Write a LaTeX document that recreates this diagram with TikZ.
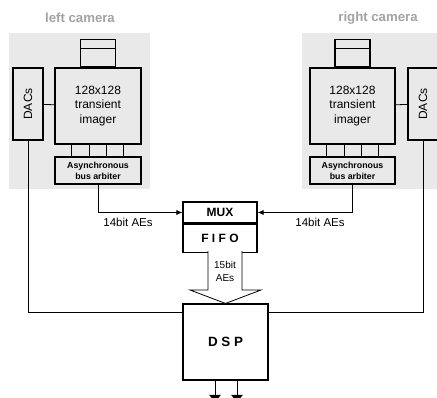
\documentclass[tikz,border=0pt]{standalone}
\usepackage{fontspec}
\setmainfont{Liberation Sans}
\usetikzlibrary{arrows.meta,calc}
\definecolor{bggray}{HTML}{E9E9E9}
\definecolor{labgray}{HTML}{A2A2A2}
\begin{document}
\begin{tikzpicture}[x=1pt,y=-1pt,
  box/.style={draw,line width=1.1pt,inner sep=0pt,align=center},
  conn/.style={line width=0.8pt},
  sig/.style={conn,-{Latex[length=6pt,width=5pt]}},
  camlabel/.style={font=\bfseries\fontsize{13.2}{15}\selectfont,text=labgray},
  big/.style={font=\fontsize{12}{14.5}\selectfont},
  small/.style={font=\bfseries\fontsize{8.8}{10.8}\selectfont},
  lab/.style={font=\fontsize{11.5}{13}\selectfont}]
\useasboundingbox (0,0) rectangle (437,398);
\clip (0,0) rectangle (437,398);
% backgrounds
\fill[bggray] (9,33) rectangle (150,189);
\fill[bggray] (302,33) rectangle (437,189);
\node[camlabel] (labL) at (80,18) {left camera};
\node[camlabel] (labR) at (378,18) {right camera};
% left camera
\node[box,minimum width=30,minimum height=72] (dacL) at (28,104) {\rotatebox{90}{\fontsize{12}{14}\selectfont DACs}};
\node[box,big,minimum width=86,minimum height=76] (imgL) at (98,106) {128x128\\transient\\imager};
\node[box,minimum width=35,minimum height=27,anchor=south] (lensL) at (imgL.north) {};
\draw[line width=1.1pt] ([yshift=-9.5pt]lensL.north west) -- ([yshift=-9.5pt]lensL.north east);
\node[box,small,minimum width=86,minimum height=27] (arbL) at (98,170.5) {Asynchronous\\bus arbiter};
\foreach \dx in {17,34.5,52,69}
  \draw[conn] ($(imgL.south west)+(\dx,0)$) -- ($(arbL.north west)+(\dx,0)$);
\draw[conn] (dacL) -- (imgL);
% right camera
\node[box,minimum width=30,minimum height=72] (dacR) at (423,104) {\rotatebox{90}{\fontsize{12}{14}\selectfont DACs}};
\node[box,big,minimum width=85,minimum height=76] (imgR) at (352.5,106) {128x128\\transient\\imager};
\node[box,minimum width=35,minimum height=27,anchor=south] (lensR) at (imgR.north) {};
\draw[line width=1.1pt] ([yshift=-9.5pt]lensR.north west) -- ([yshift=-9.5pt]lensR.north east);
\node[box,small,minimum width=85,minimum height=27] (arbR) at (352.5,170.5) {Asynchronous\\bus arbiter};
\foreach \dx in {17,34.5,52,69}
  \draw[conn] ($(imgR.south west)+(\dx,0)$) -- ($(arbR.north west)+(\dx,0)$);
\draw[conn] (imgR) -- (dacR);
% MUX / FIFO
\node[box,minimum width=74,minimum height=21,font=\bfseries\fontsize{12}{14}\selectfont] (mux) at (220,212.5) {MUX};
\node[box,minimum width=74,minimum height=28,anchor=north,font=\bfseries\fontsize{12}{14}\selectfont] (fifo) at (mux.south) {F I F O};
\draw[sig] (arbL.south) |- (mux.west);
\draw[sig] (arbR.south) |- (mux.east);
\node[lab] (aesL) at (128,222) {14bit AEs};
\node[lab] (aesR) at (320,222) {14bit AEs};
% DSP
\node[box,minimum width=85,minimum height=76,font=\bfseries\fontsize{13.4}{15}\selectfont] (dsp) at (225.5,342) {D S P};
% fat arrow
\coordinate (fa1) at (208,251);
\coordinate (fa2) at (242,251);
\draw[line width=0.8pt,fill=white] (fa1) -- (208,290) -- (190,290) -- (dsp.north) -- (261,290) -- (242,290) -- (fa2);
\node[font=\fontsize{10}{13}\selectfont,align=center] (aes15) at (225,271) {15bit\\AEs};
% DAC lines to DSP
\draw[conn] (dacL.south) |- ([yshift=-9pt]dsp.north west);
\draw[conn] (dacR.south) |- ([yshift=-9pt]dsp.north east);
% outputs
\coordinate (o1) at (215,403);
\coordinate (o2) at (237,403);
\draw[conn,-{Latex[length=8pt,width=12pt]}] (dsp.south -| o1) -- (o1);
\draw[conn,-{Latex[length=8pt,width=12pt]}] (dsp.south -| o2) -- (o2);
\end{tikzpicture}
\end{document}
